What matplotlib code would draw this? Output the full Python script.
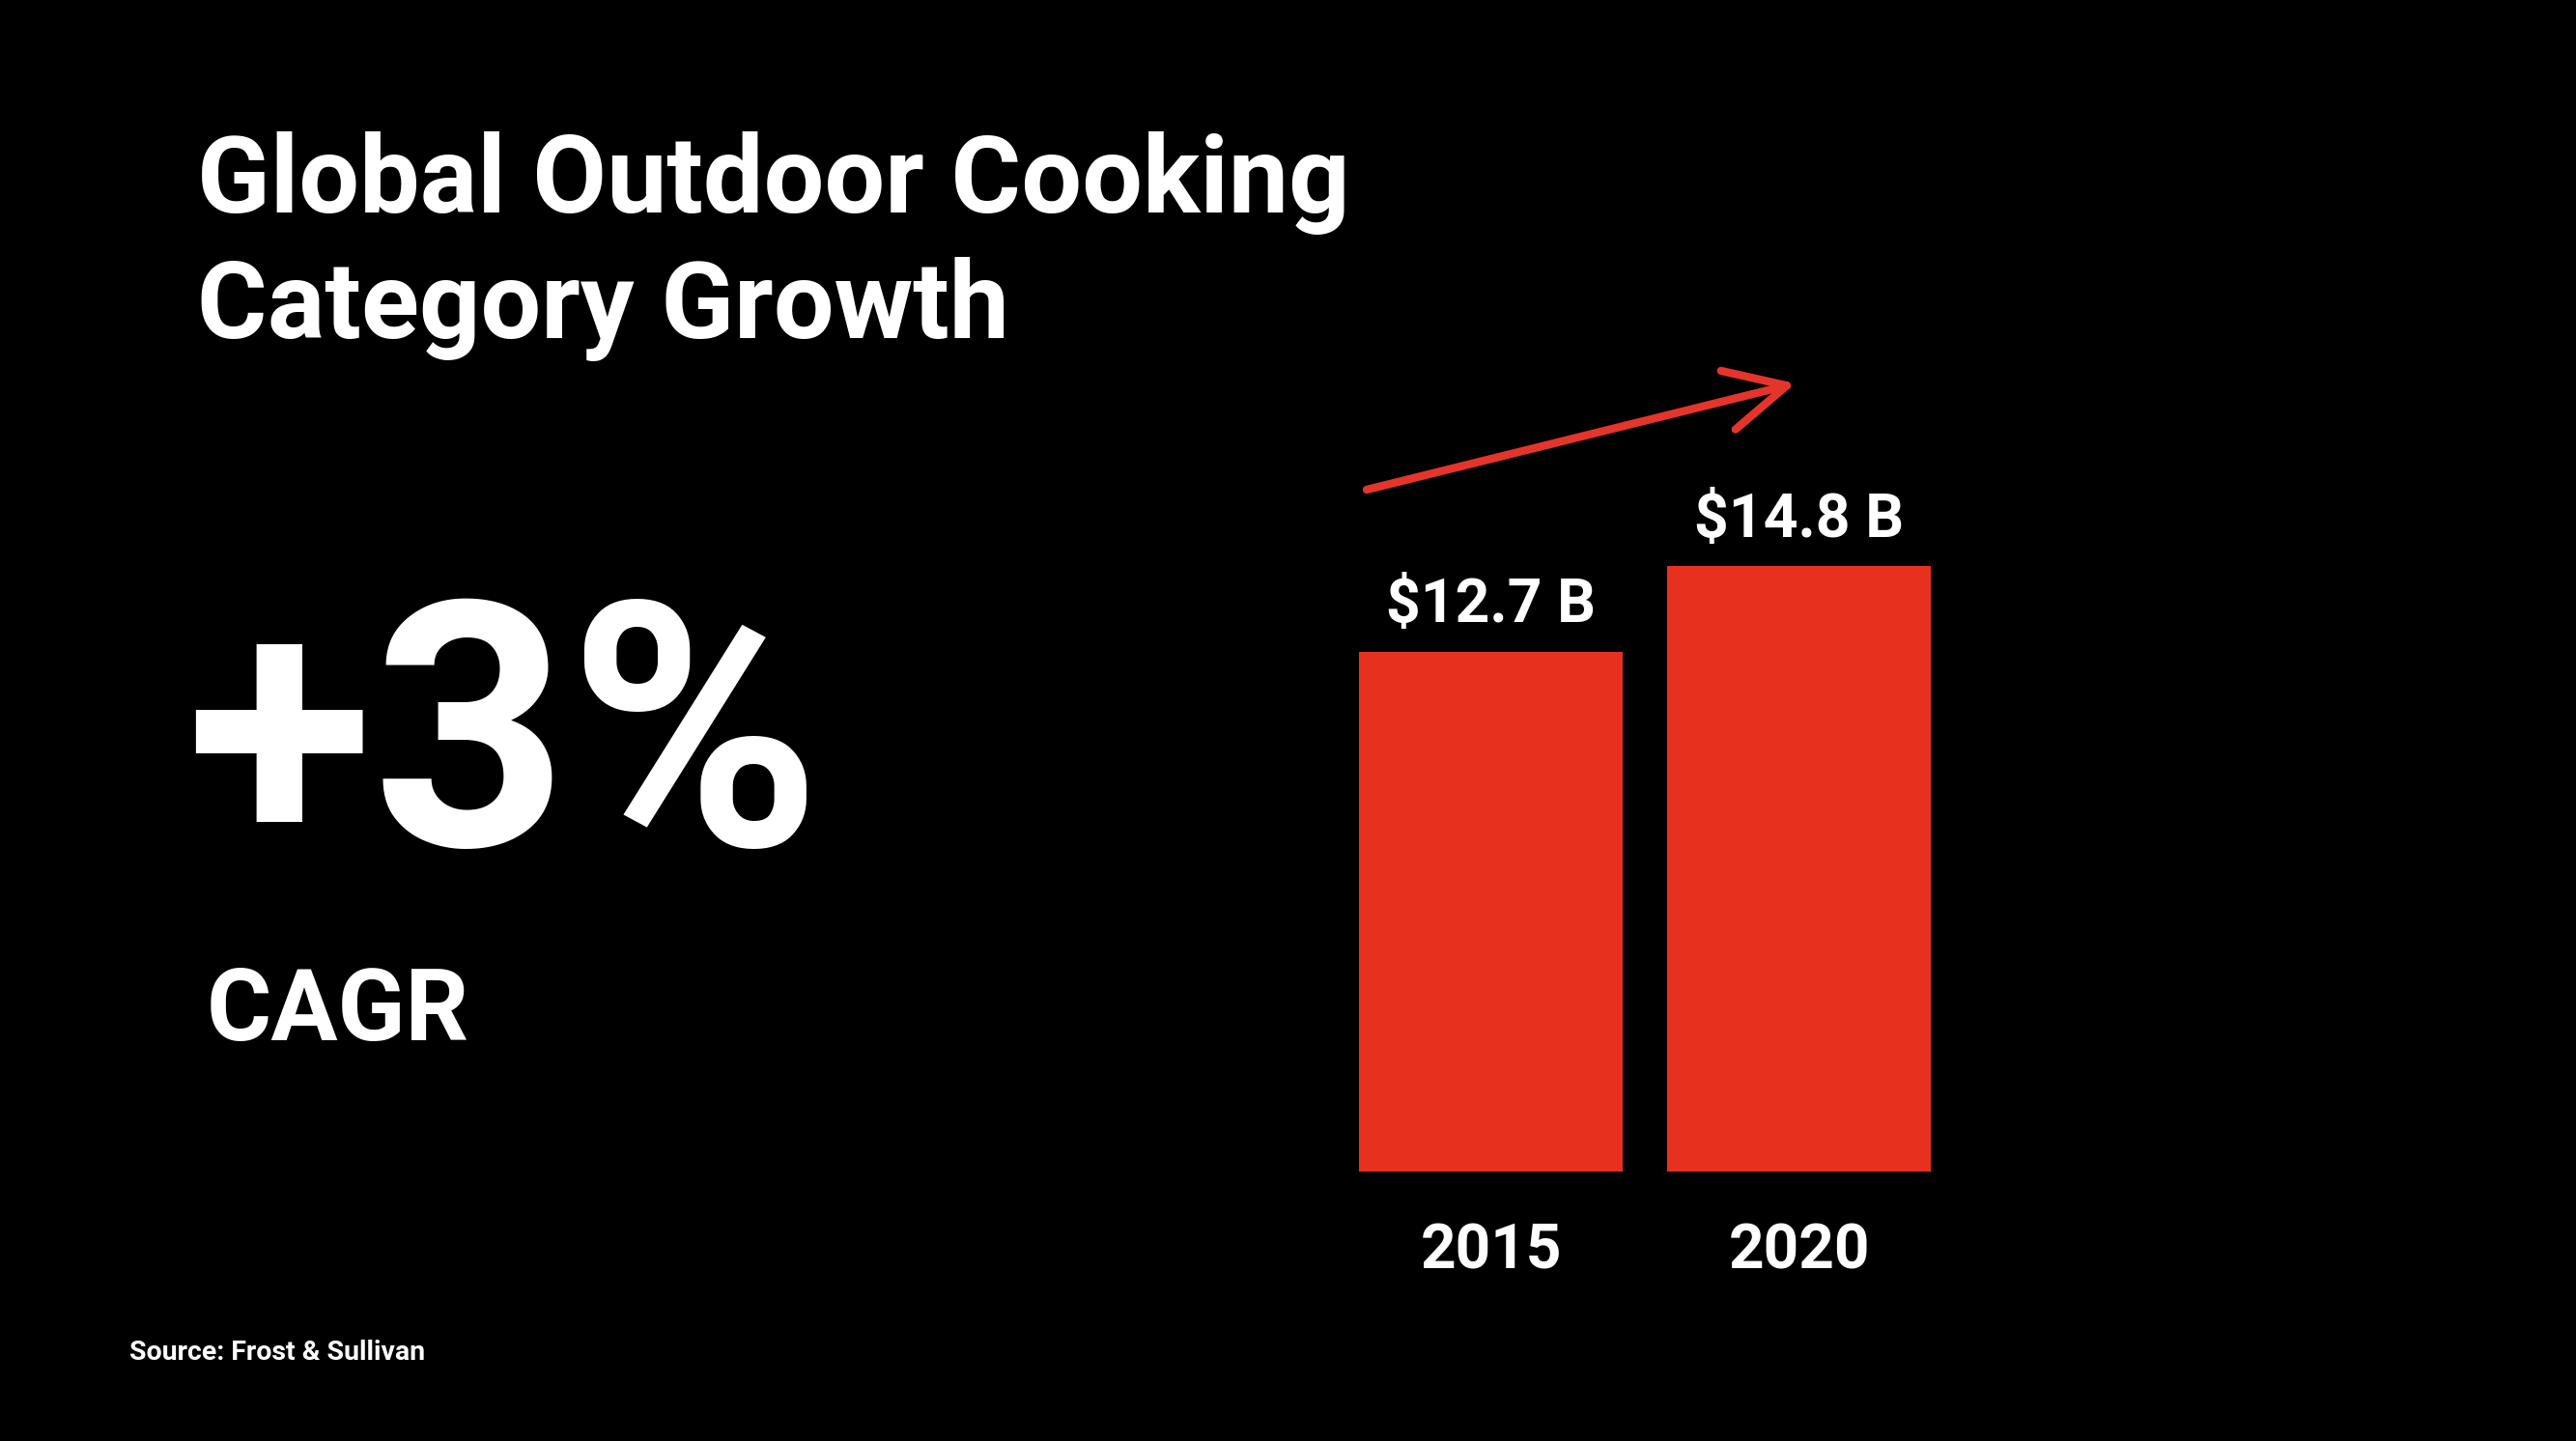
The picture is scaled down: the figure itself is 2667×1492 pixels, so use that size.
import matplotlib
matplotlib.use("Agg")
import matplotlib.pyplot as plt

# ----------------------------
# Data
# ----------------------------
years = ["2015", "2020"]
values = [12.7, 14.8]
value_labels = ["$12.7 B", "$14.8 B"]
title_lines = ["Global Outdoor Cooking", "Category Growth"]
cagr_text = "+3%"
cagr_label = "CAGR"
source_text = "Source: Frost & Sullivan"

RED = "#E8301F"
BG = "black"
plt.rcParams['font.family'] = ['Roboto', 'DejaVu Sans']

W, H = 2667, 1492
fig = plt.figure(figsize=(W / 100, H / 100), dpi=100, facecolor=BG)

# axes over the whole figure, scaled so the bars land where they should
ax = fig.add_axes([0, 0, 1, 1])
ax.set_facecolor(BG)
px_per_x = 319.0
x0_px = 1543.5
px_per_val = 42.36
base_px = H - 1213
ax.set_xlim(-x0_px / px_per_x, (W - x0_px) / px_per_x)
ax.set_ylim(-base_px / px_per_val, (H - base_px) / px_per_val)
ax.axis("off")

xs = list(range(len(years)))
ax.bar(xs, values, width=0.853, color=RED)

for xi, v, lab in zip(xs, values, value_labels):
    ax.annotate(lab, (xi, v), xytext=(0, 22), textcoords="offset points",
                ha="center", va="baseline", color="white",
                fontsize=45, fontweight="bold")

for xi, yr in zip(xs, years):
    ax.annotate(yr, (xi, 0), xytext=(0, -72), textcoords="offset points",
                ha="center", va="baseline", color="white",
                fontsize=46, fontweight="bold")

# growth arrow
ax.annotate("", xy=(1859 / W, 1 - 397 / H), xytext=(1415 / W, 1 - 507 / H),
            xycoords="figure fraction", textcoords="figure fraction",
            arrowprops=dict(arrowstyle="->,head_length=1.5,head_width=0.75",
                            mutation_scale=30, color="#E5352A", lw=6,
                            shrinkA=0, shrinkB=0))

# title
fig.text(204 / W, 1 - 220 / H, title_lines[0], color="white",
         fontsize=80, fontweight="bold", ha="left", va="baseline")
fig.text(204 / W, 1 - 350 / H, title_lines[1], color="white",
         fontsize=80, fontweight="bold", ha="left", va="baseline")

# big CAGR figure
fig.text(192 / W, 1 - 876 / H, cagr_text, color="white",
         fontsize=255, fontweight="bold", ha="left", va="baseline")
fig.text(214 / W, 1 - 1077 / H, cagr_label, color="white",
         fontsize=74, fontweight="bold", ha="left", va="baseline")

fig.text(134 / W, 1 - 1408 / H, source_text, color="white",
         fontsize=20.5, fontweight="bold", ha="left", va="baseline")

fig.savefig("out.png", dpi=100, facecolor=BG)
